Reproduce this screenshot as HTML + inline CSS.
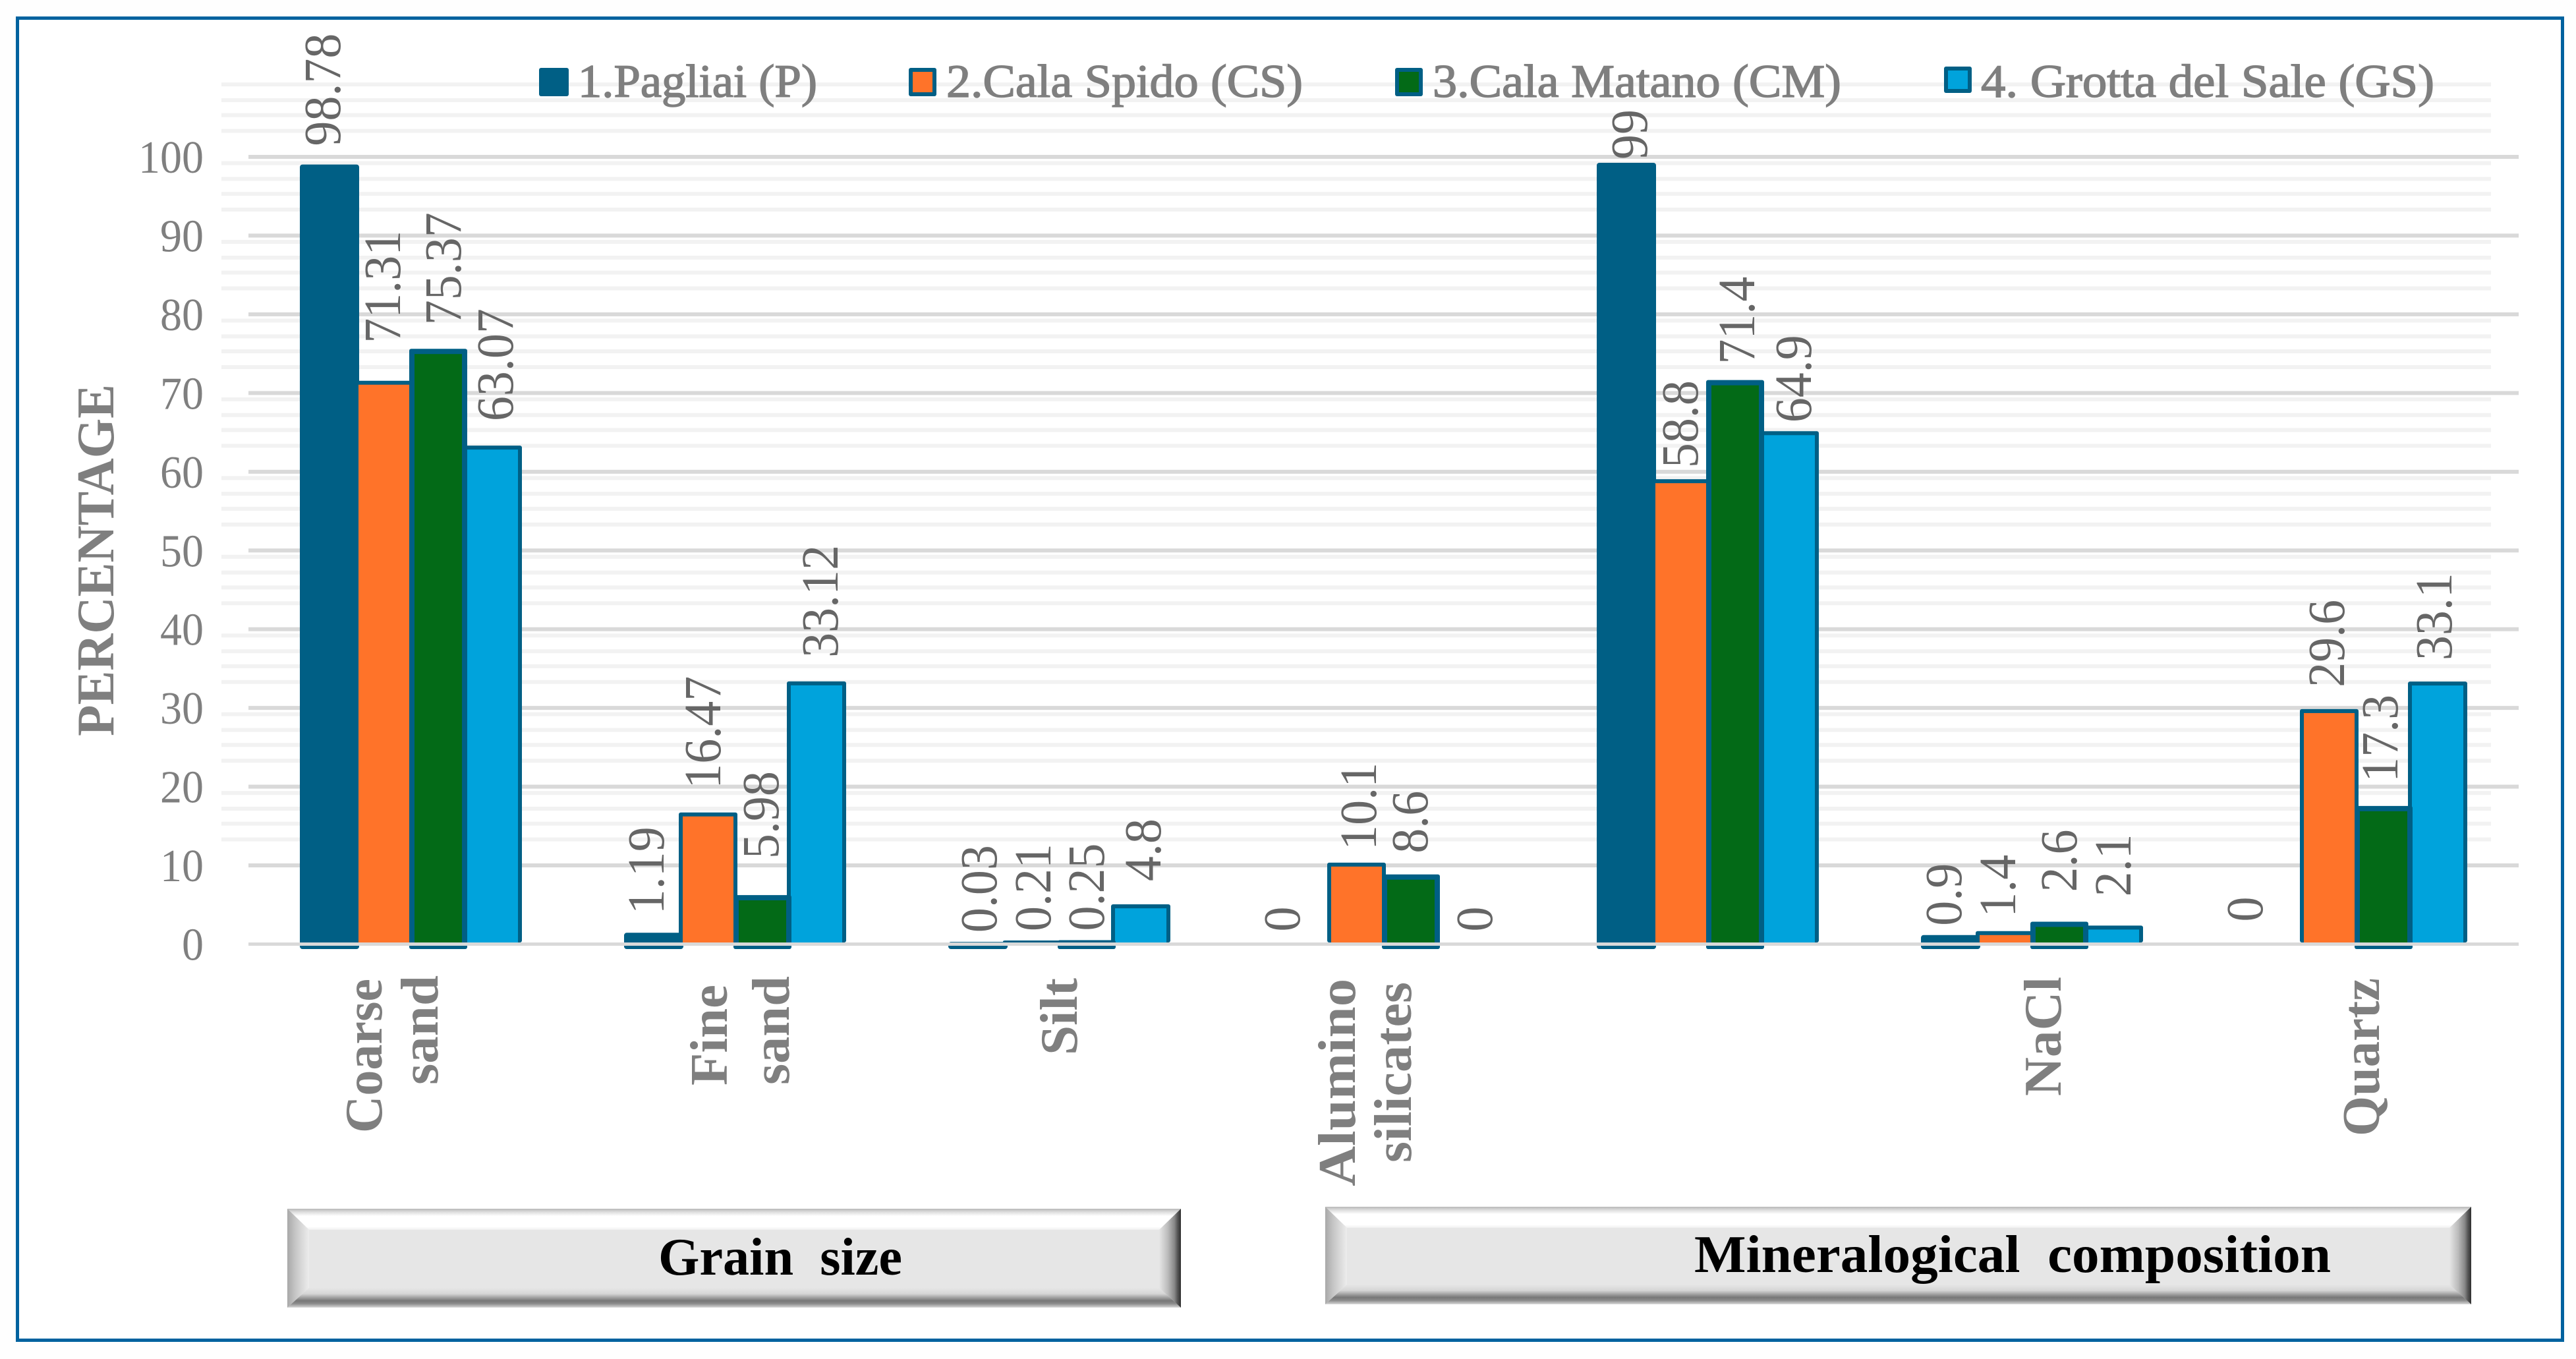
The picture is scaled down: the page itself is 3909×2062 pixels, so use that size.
<!DOCTYPE html>
<html lang="en">
<head>
<meta charset="utf-8">
<title>Grain size and mineralogical composition</title>
<style>
html,body{margin:0;padding:0;background:#fefefe;}
svg{display:block;font-family:"Liberation Serif",serif;}
</style>
</head>
<body>
<svg id="chart" xmlns="http://www.w3.org/2000/svg" width="3909" height="2062" viewBox="0 0 3909 2062">
  <defs>
    <linearGradient id="bevel-top" x1="0" y1="0" x2="0" y2="1"><stop offset="0" stop-color="#b8b8b8"/><stop offset=".15" stop-color="#dcdcdc"/><stop offset=".35" stop-color="#ffffff"/><stop offset=".85" stop-color="#ffffff"/><stop offset="1" stop-color="#f0f0f0"/></linearGradient>
    <linearGradient id="bevel-bottom" x1="0" y1="0" x2="0" y2="1"><stop offset="0" stop-color="#e6e6e6"/><stop offset=".3" stop-color="#d6d6d6"/><stop offset=".65" stop-color="#777777"/><stop offset=".8" stop-color="#8a8a8a"/><stop offset="1" stop-color="#d8d8d8"/></linearGradient>
    <linearGradient id="bevel-right" x1="0" y1="0" x2="1" y2="0"><stop offset="0" stop-color="#e6e6e6"/><stop offset=".4" stop-color="#bbbbbb"/><stop offset=".7" stop-color="#888888"/><stop offset=".85" stop-color="#555555"/><stop offset="1" stop-color="#2e2e2e"/></linearGradient>
    <linearGradient id="bevel-left" x1="0" y1="0" x2="1" y2="0"><stop offset="0" stop-color="#a8a8a8"/><stop offset=".4" stop-color="#c8c8c8"/><stop offset="1" stop-color="#ededed"/></linearGradient>
  </defs>
  <rect x="26.5" y="27.5" width="3862" height="2006" fill="#ffffff" stroke="#00629f" stroke-width="5"/>
  <g id="grid"></g>
  <g id="bars"></g>
  <g id="axis"></g>
  <g id="data-labels"></g>
  <g id="legend"></g>
  <text transform="translate(172,1117) rotate(-90)" font-size="80" font-weight="bold" fill="#7f7f7f" textLength="534" lengthAdjust="spacingAndGlyphs">PERCENTAGE</text>
  <g id="category-labels"></g>
  <g id="banners"></g>
</svg>
<script>
// ---- chart data ----
const categories = [["Coarse", "sand"], ["Fine", "sand"], ["Silt"], ["Alumino", "silicates"], [], ["NaCl"], ["Quartz"]];
const seriesNames = ["1.Pagliai (P)", "2.Cala Spido (CS)", "3.Cala Matano (CM)", "4. Grotta del Sale (GS)"];
const valuesPagliai = [98.78, 1.19, 0.03, 0, 99, 0.9, 0];
const valuesCalaSpido = [71.31, 16.47, 0.21, 10.1, 58.8, 1.4, 29.6];
const valuesCalaMatano = [75.37, 5.98, 0.25, 8.6, 71.4, 2.6, 17.3];
const valuesGrotta = [63.07, 33.12, 4.8, 0, 64.9, 2.1, 33.1];
const yTicks = [0, 10, 20, 30, 40, 50, 60, 70, 80, 90, 100];
const groupTitles = ["Grain  size", "Mineralogical  composition"];

// ---- layout (not data) ----
const NS = "http://www.w3.org/2000/svg";
function y(v) { return 1432.5 - v * 11.945; }
function groupX(i) { return 455 + 492 * i; }
const AXIS_BOTTOM = 1430, TAB_BOTTOM = 1440;
const colors = ["#005f85", "#ff7329", "#036a17", "#00a3dc"];
const STROKE = "#005f85";
const labelDx = [[61,152,244,323],[60,146,234,324],[73,155,236,322],[41,157,235,333],[76,153,239,325],[61,143,236,318],[26,150,231,313]];
const labelGap = [[28,57,36,37],[28,36,55,36],[14,14,14,35],[16,19,32,16],[5,17,24,13],[14,21,45,44],[31,33,36,32]];
const catLayout = [[[579,1719,234],[664,1646,166]],[[1103,1647,153],[1197,1646,165]],[[1634,1601,117]],[[2056,1800,315],[2141,1764,274]],[],[[3127,1663,181]],[[3610,1724,240]]];
const legendLayout = [[818,103,45,43,877,363],[1379,103,42,43,1436,541],[2117,103,42,43,2174,620],[2950,101,42,40,3006,688]];
const bannerLayout = [[436,1834,1792,1984,999,1934,370],[2011,1831,3750,1979,2571,1930,966]];

function mk(tag, attrs, parent) {
  const el = document.createElementNS(NS, tag);
  for (const k in attrs) el.setAttribute(k, attrs[k]);
  parent.appendChild(el);
  return el;
}
const gGrid = document.getElementById("grid");
const gBars = document.getElementById("bars");
const gAxis = document.getElementById("axis");
const gLabels = document.getElementById("data-labels");
const gLegend = document.getElementById("legend");
const gCats = document.getElementById("category-labels");
const gBanners = document.getElementById("banners");

// minor lines: four per decade, no line for the lowest decade
const minorOffsets = [0.8, 2.8, 4.7, 6.7];
yTicks.concat([110]).forEach(function (t) {
  if (t < 20) return;
  minorOffsets.forEach(function (o) {
    const line = mk("rect", {x: 336, y: y(t - o) - 3, width: 3444, height: 6, fill: "#f2f2f2"}, gGrid);
    
    
  });
});
yTicks.forEach(function (t) {
  if (t > 0) {
    const line = mk("rect", {x: 377, y: y(t) - 3, width: 3445, height: 6, fill: "#d9d9d9"}, gGrid);
    
    
  }
  const lab = mk("text", {x: 309, y: y(t) + 24, "text-anchor": "end", "font-size": 70, fill: "#7f7f7f", textLength: String(t).length * 33, lengthAdjust: "spacingAndGlyphs"}, gGrid);
  lab.textContent = String(t);
  
  
});

// bars, in paint order P, CS, GS, CM
function barP(i, v) {
  if (v <= 0) return;
  const g = groupX(i), top = y(v) - 3;
  const el = mk("rect", {x: g, y: top, width: 90, height: TAB_BOTTOM - top, rx: 4, fill: colors[0]}, gBars);
  
  
}
function barFramed(i, v, outerL, outerR, innerL, innerR, sw, bottom, color, name) {
  if (v <= 0) return;
  const g = groupX(i), top = y(v) - 3;
  const outer = mk("rect", {x: g + outerL, y: top, width: outerR - outerL, height: bottom - top, rx: 3, fill: STROKE}, gBars);
  
  
  const ih = AXIS_BOTTOM - (top + sw);
  if (ih > 0) {
    const inner = mk("rect", {x: g + innerL, y: top + sw, width: innerR - innerL, height: ih, fill: color}, gBars);
    
    
  }
}
categories.forEach(function (c, i) {
  barP(i, valuesPagliai[i]);
  barFramed(i, valuesCalaSpido[i], 83, 172, 89, 166, 6, AXIS_BOTTOM, colors[1], "bar-cala-spido");
  barFramed(i, valuesGrotta[i], 247, 337, 253, 331, 6, AXIS_BOTTOM, colors[3], "bar-grotta-del-sale");
  barFramed(i, valuesCalaMatano[i], 166, 254, 174, 246, 8, TAB_BOTTOM, colors[2], "bar-cala-matano");
});

// zero axis over the bars
const axisLine = mk("rect", {x: 377, y: 1430, width: 3445, height: 5, fill: "#d9d9d9"}, gAxis);



// data labels
[valuesPagliai, valuesCalaSpido, valuesCalaMatano, valuesGrotta].forEach(function (vals, s) {
  vals.forEach(function (v, i) {
    const txt = String(v);
    const bx = groupX(i) + labelDx[i][s];
    const by = y(v) - 3 - labelGap[i][s];
    const len = txt.replace(".", "").length * 38 + (txt.indexOf(".") >= 0 ? 19 : 0);
    const t = mk("text", {transform: "translate(" + bx + "," + by + ") rotate(-90)", "font-size": 79, fill: "#666666", textLength: len, lengthAdjust: "spacingAndGlyphs"}, gLabels);
    t.textContent = txt;
    
    
  });
});

// legend
seriesNames.forEach(function (n, s) {
  const L = legendLayout[s];
  const sw = mk("rect", {x: L[0], y: L[1], width: L[2], height: L[3], rx: 3, fill: STROKE}, gLegend);
  
  
  if (s > 0) {
    const inner = mk("rect", {x: L[0] + 6, y: L[1] + 6, width: L[2] - 12, height: L[3] - 12, fill: colors[s]}, gLegend);
    
    
  }
  const t = mk("text", {x: L[4], y: 147, "font-size": 71, fill: "#7f7f7f", stroke: "#7f7f7f", "stroke-width": 1.5, textLength: L[5], lengthAdjust: "spacingAndGlyphs"}, gLegend);
  t.textContent = n;
  
  
});

// category labels
categories.forEach(function (lines, i) {
  lines.forEach(function (word, j) {
    const L = catLayout[i][j];
    const t = mk("text", {transform: "translate(" + L[0] + "," + L[1] + ") rotate(-90)", "font-size": 80, "font-weight": "bold", fill: "#7f7f7f", textLength: L[2], lengthAdjust: "spacingAndGlyphs"}, gCats);
    t.textContent = word;
    
    
  });
});

// group banners
groupTitles.forEach(function (title, k) {
  const B = bannerLayout[k], x0 = B[0], y0 = B[1], x1 = B[2], y1 = B[3];
  const tb = 32, lb = 33, rb = 33, bb = 30;
  const box = mk("g", {}, gBanners);
  
  
  mk("rect", {x: x0, y: y0, width: x1 - x0, height: y1 - y0, fill: "#e6e6e6"}, box);
  mk("polygon", {points: [x0, y0, x1, y0, x1 - rb, y0 + tb, x0 + lb, y0 + tb].join(","), fill: "url(#bevel-top)"}, box);
  mk("polygon", {points: [x0, y1, x1, y1, x1 - rb, y1 - bb, x0 + lb, y1 - bb].join(","), fill: "url(#bevel-bottom)"}, box);
  mk("polygon", {points: [x0, y0, x0 + lb, y0 + tb, x0 + lb, y1 - bb, x0, y1].join(","), fill: "url(#bevel-left)"}, box);
  mk("polygon", {points: [x1, y0, x1 - rb, y0 + tb, x1 - rb, y1 - bb, x1, y1].join(","), fill: "url(#bevel-right)"}, box);
  const t = mk("text", {x: B[4], y: B[5], "font-size": 80, "font-weight": "bold", fill: "#000000", textLength: B[6], lengthAdjust: "spacingAndGlyphs", "xml:space": "preserve", style: "white-space:pre"}, box);
  t.textContent = title;
  
  
});
</script>
</body>
</html>
